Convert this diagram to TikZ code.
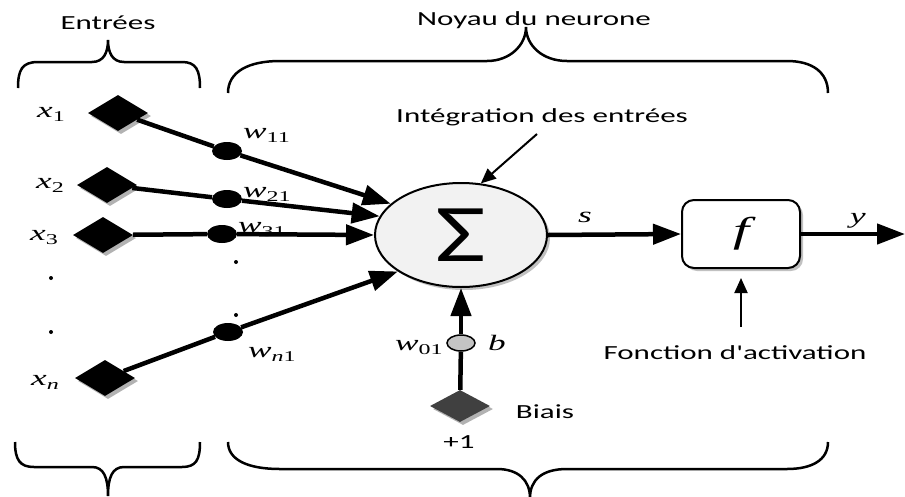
\documentclass[tikz,border=0pt]{standalone}
\usepackage{fontspec}
\setmainfont{Carlito}
\newfontfamily\lab[FakeStretch=1.55]{Carlito}
\newfontfamily\sig[FakeStretch=1.35]{Carlito}
\newfontfamily\tms[FakeStretch=1.6]{Liberation Serif}
\usetikzlibrary{shapes.geometric,arrows.meta,shadows}
\definecolor{sumfill}{HTML}{F2F2F2}
\definecolor{biasfill}{HTML}{C4C4C4}
\definecolor{biasdia}{HTML}{404040}
\newcommand\sbs[1]{\raisebox{-0.22em}{\fontsize{15}{15}\selectfont\upshape #1}}
\begin{document}
\begin{tikzpicture}[x=1pt,y=-1pt,
  inp/.style={diamond,fill=black,minimum width=60pt,minimum height=36pt,inner sep=0pt,
    drop shadow={shadow xshift=3pt,shadow yshift=-3pt,fill=gray!60,opacity=1}},
  wt/.style={ellipse,fill=black,minimum width=30pt,minimum height=18pt,inner sep=0pt},
  conn/.style={line width=4.5pt},
  big/.style={conn,-{Triangle[length=28pt,width=20pt]}},
  thinarr/.style={line width=2pt,-{Triangle[length=15pt,width=13pt]}},
  brace/.style={line width=2.5pt},
  lbl/.style={font=\lab\fontsize{20}{24}\selectfont,inner sep=0pt,anchor=base},
  mth/.style={font=\tms\fontsize{22}{24}\selectfont\itshape,inner sep=0pt,anchor=base west},
  dotn/.style={circle,fill=black,inner sep=0pt,minimum size=4pt}]
\useasboundingbox (0,0) rectangle (905,496);

% braces
\draw[brace] (18,88) .. controls (18,70) and (22,62) .. (38,62) -- (92,62)
  .. controls (104,62) and (108,52) .. (108,40)
  .. controls (108,52) and (112,62) .. (124,62) -- (182,62)
  .. controls (196,62) and (200,70) .. (200,88);
\draw[brace] (228,93) .. controls (228,72) and (248,61) .. (280,61) -- (487,61)
  .. controls (510,61) and (526,45) .. (526,27)
  .. controls (526,45) and (542,61) .. (567,61) -- (787,61)
  .. controls (812,61) and (828,72) .. (828,93);
\draw[brace] (15,442) .. controls (15,460) and (20,467) .. (34,467) -- (92,467)
  .. controls (104,467) and (108,478) .. (108,496)
  .. controls (108,478) and (112,467) .. (124,467) -- (182,467)
  .. controls (196,467) and (200,460) .. (200,442);
\draw[brace] (228,442) .. controls (228,460) and (248,469) .. (280,469) -- (497,469)
  .. controls (518,469) and (530,480) .. (530,498)
  .. controls (530,480) and (542,469) .. (567,469) -- (787,469)
  .. controls (812,469) and (828,460) .. (828,442);

% texts
\node[lbl] (tentrees) at (108,29) {Entrées};
\node[lbl] (tnoyau) at (534,25) {Noyau du neurone};
\node[lbl] (tinteg) at (542,122) {Intégration des entrées};
\node[lbl] (tfonc) at (735,359) {Fonction d'activation};
\node[lbl] (tbiais) at (545,418) {Biais};
\node[lbl] (tplus) at (459,448) {+1};

% inputs
\node[inp] (x1) at (118,113) {};
\node[inp] (x2) at (107,185) {};
\node[inp] (x3) at (103,235) {};
\node[inp] (xn) at (105,378) {};
\node[mth] (lx1) at (37,117) {x\sbs{1}};
\node[mth] (lx2) at (36,188) {x\sbs{2}};
\node[mth] (lx3) at (30,240) {x\sbs{3}};
\node[mth] (lxn) at (31,385) {x\sbs{\itshape n}};
\node[dotn] (d1) at (51,278) {};
\node[dotn] (d2) at (51,332) {};

% weights
\node[wt] (w1) at (227,151) {};
\node[wt] (w2) at (227,199) {};
\node[wt] (w3) at (222,234) {};
\node[wt] (wn) at (228,332) {};
\node[dotn] (d3) at (236,262) {};
\node[dotn] (d4) at (236,315) {};
\node[mth] (lw1) at (243,138) {w\sbs{11}};
\node[mth] (lw2) at (243,197) {w\sbs{21}};
\node[mth] (lw3) at (238,232) {w\sbs{31}};
\node[mth] (lwn) at (248,357) {w\sbs{{\itshape n}1}};

% sum
\node[ellipse,draw,line width=2pt,fill=sumfill,minimum width=172pt,minimum height=104pt,inner sep=0pt,
  drop shadow={shadow xshift=3pt,shadow yshift=-3pt,fill=gray!60,opacity=0.8}] (sum) at (461,235)
  {\sig\fontsize{82}{82}\selectfont Σ};

% bias
\node[ellipse,draw,line width=1.5pt,fill=biasfill,minimum width=28pt,minimum height=16pt,inner sep=0pt] (bc) at (461,343) {};
\node[inp,fill=biasdia,minimum height=32pt] (bd) at (460,406) {};
\node[mth] (lw0) at (395,350) {w\sbs{01}};
\node[mth] (lb) at (488,350) {b};

% activation
\node[draw,rounded corners=12pt,line width=2pt,minimum width=118pt,minimum height=68pt,fill=white,
  drop shadow={shadow xshift=3pt,shadow yshift=-3pt,fill=gray!60,opacity=0.8}] (f) at (741,234)
  {\tms\fontsize{36}{36}\selectfont\itshape f};
\node[mth] (ls) at (578,222) {s};
\node[mth] (ly) at (850,223) {y};

% connectors
\draw[conn] (x1) -- (w1);
\draw[big] (w1) -- (sum.156);
\draw[conn] (x2) -- (w2);
\draw[big] (w2) -- (sum.167);
\draw[conn] (x3) -- (w3);
\draw[big] (w3) -- (sum.west);
\draw[conn] (xn) -- (wn);
\draw[big] (wn) -- (sum.210);
\draw[conn] (bd) -- (bc);
\draw[big] (bc) -- (sum.south);
\draw[big] (sum.east) -- (f.west);
\coordinate (yend) at (905,234);
\draw[big] (f.east) -- (yend);
\coordinate (ia) at (537,134);
\draw[thinarr] (ia) -- (sum.69);
\coordinate (fa) at (741,327);
\draw[thinarr,shorten >=9pt] (fa) -- (f.south);
\end{tikzpicture}
\end{document}
